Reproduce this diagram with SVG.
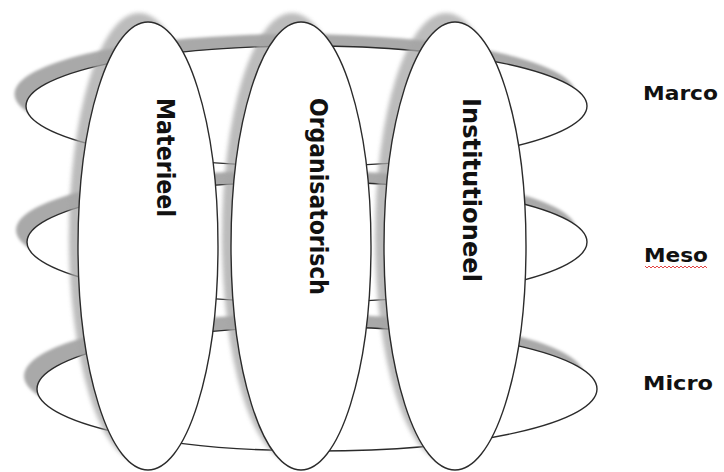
<svg xmlns="http://www.w3.org/2000/svg" width="724" height="472" viewBox="0 0 724 472">
<style>
.ring{fill:#fff;stroke:#2b2b2b;stroke-width:1.4}
.ringsh{fill:#a9a9a9;filter:url(#blur)}
.pill{fill:#fff;stroke:#2b2b2b;stroke-width:1.4}
.pillsh{fill:#a6a6a6;opacity:.75;filter:url(#blur2)}
.vt{font-family:"DejaVu Sans","Liberation Sans",sans-serif;font-weight:bold;font-size:25px;fill:#111}
.lbl{font-family:"DejaVu Sans","Liberation Sans",sans-serif;font-weight:bold;font-size:20px;fill:#111}
</style>
<defs>
<filter id="blur" x="-10%" y="-30%" width="120%" height="160%"><feGaussianBlur stdDeviation="1.5"/></filter>
<filter id="blur2" x="-30%" y="-10%" width="160%" height="120%"><feGaussianBlur stdDeviation="2"/></filter>
</defs>
<rect width="724" height="472" fill="#fff"/>
<g id="ring-marco">
<ellipse class="ringsh" cx="295" cy="94" rx="280.5" ry="60"/>
<ellipse class="ring" cx="306.5" cy="106" rx="280.5" ry="60"/>
</g>
<g id="ring-meso">
<ellipse class="ringsh" cx="296" cy="230" rx="280" ry="60"/>
<ellipse class="ring" cx="307" cy="242" rx="280" ry="60"/>
</g>
<g id="ring-micro">
<ellipse class="ringsh" cx="304" cy="376" rx="280" ry="62"/>
<ellipse class="ring" cx="317" cy="389" rx="280" ry="62"/>
</g>
<g id="materieel">
<ellipse class="pillsh" cx="139" cy="237" rx="70" ry="224"/>
<ellipse class="pill" cx="148" cy="246" rx="70" ry="224"/>
<text class="vt" transform="translate(157,98) rotate(90)" textLength="119" lengthAdjust="spacingAndGlyphs">Materieel</text>
</g>
<g id="organisatorisch">
<ellipse class="pillsh" cx="292" cy="237" rx="70" ry="224"/>
<ellipse class="pill" cx="301" cy="246" rx="70" ry="224"/>
<text class="vt" transform="translate(310,98) rotate(90)" textLength="197" lengthAdjust="spacingAndGlyphs">Organisatorisch</text>
</g>
<g id="institutioneel">
<ellipse class="pillsh" cx="446" cy="237" rx="71" ry="224"/>
<ellipse class="pill" cx="455" cy="246" rx="71" ry="224"/>
<text class="vt" transform="translate(463,98) rotate(90)" textLength="184" lengthAdjust="spacingAndGlyphs">Institutioneel</text>
</g>
<g id="label-marco"><text class="lbl" x="643" y="100" textLength="75" lengthAdjust="spacingAndGlyphs">Marco</text></g>
<g id="label-meso"><text class="lbl" x="644" y="262" textLength="64" lengthAdjust="spacingAndGlyphs">Meso</text>
<path d="M645 266 l2 2 l2 -2 l2 2 l2 -2 l2 2 l2 -2 l2 2 l2 -2 l2 2 l2 -2 l2 2 l2 -2 l2 2 l2 -2 l2 2 l2 -2 l2 2 l2 -2 l2 2 l2 -2 l2 2 l2 -2 l2 2 l2 -2 l2 2 l2 -2 l2 2 l2 -2 l2 2 l2 -2 l2 2" fill="none" stroke="#e03030" stroke-width="0.9"/></g>
<g id="label-micro"><text class="lbl" x="643" y="390" textLength="70" lengthAdjust="spacingAndGlyphs">Micro</text></g>
<g id="connectors"/>
</svg>
